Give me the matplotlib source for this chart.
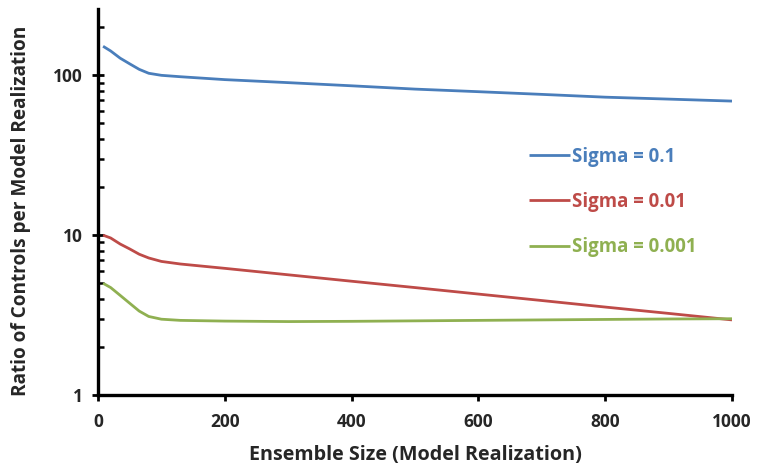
import numpy as np
import matplotlib
matplotlib.use("Agg")
import matplotlib.pyplot as plt
from matplotlib.ticker import FixedLocator, LogLocator, NullFormatter

# data
ensemble = [8, 20, 35, 50, 65, 80, 100, 130, 200, 300, 400, 500, 600, 700, 800, 900, 1000]
sigma_01 = [152, 142, 128, 118, 109, 103, 100, 98, 94, 90, 86, 82, 79, 76, 73, 71, 69]
sigma_001 = [10, 9.6, 8.8, 8.2, 7.6, 7.2, 6.85, 6.6, 6.2, 5.65, 5.15, 4.7, 4.28, 3.9, 3.55, 3.24, 2.95]
sigma_0001 = [5.0, 4.7, 4.2, 3.75, 3.35, 3.1, 2.98, 2.93, 2.9, 2.88, 2.89, 2.91, 2.93, 2.95, 2.97, 2.99, 3.0]
labels = ["Sigma = 0.1", "Sigma = 0.01", "Sigma = 0.001"]
colors = ["#4a7ebb", "#be4b48", "#8fb051"]

plt.rcParams['font.family'] = ['Open Sans', 'DejaVu Sans']
txt = '#262626'

fig = plt.figure(figsize=(7.58, 4.73), dpi=100)
ax = fig.add_axes([98/758, 1 - 395/473, 634/758, 386/473])

for ys, lab, c in zip([sigma_01, sigma_001, sigma_0001], labels, colors):
    ax.plot(ensemble, ys, color=c, lw=2.0, label=lab, solid_capstyle='butt')

ax.set_yscale('log')
ax.set_xlim(0, 1000)
ax.set_ylim(1, 260)
ax.set_xticks([0, 200, 400, 600, 800, 1000])
ax.yaxis.set_major_locator(FixedLocator([1, 10, 100]))
ax.yaxis.set_minor_locator(LogLocator(base=10, subs=np.arange(2, 10)))
ax.yaxis.set_minor_formatter(NullFormatter())
ax.set_yticklabels(["1", "10", "100"])

for s in ['top', 'right']:
    ax.spines[s].set_visible(False)
for s in ['left', 'bottom']:
    ax.spines[s].set_linewidth(2.4)

ax.tick_params(axis='y', which='major', direction='inout', length=8, width=2, pad=7,
               labelsize=12.5)
ax.tick_params(axis='y', which='minor', direction='in', length=4, width=1.8)
ax.tick_params(axis='x', which='major', direction='out', length=4, width=2, pad=9,
               labelsize=12.5)
for t in ax.get_xticklabels() + ax.get_yticklabels():
    t.set_fontweight('bold')
    t.set_color(txt)

ax.set_xlabel("Ensemble Size (Model Realization)", fontsize=14.2, fontweight='bold',
              color=txt, labelpad=10)
ax.set_ylabel("Ratio of Controls per Model Realization", fontsize=13.7, fontweight='bold',
              color=txt)
ax.yaxis.set_label_coords(-0.106, 0.478)

leg = ax.legend(loc='upper left', bbox_to_anchor=(0.68, 0.643), frameon=False,
                labelcolor='linecolor', handlelength=2.2, handletextpad=0.1,
                labelspacing=1.35, borderpad=0, borderaxespad=0,
                prop={'size': 13.4, 'weight': 'bold'})

fig.savefig("out.png", dpi=100)
